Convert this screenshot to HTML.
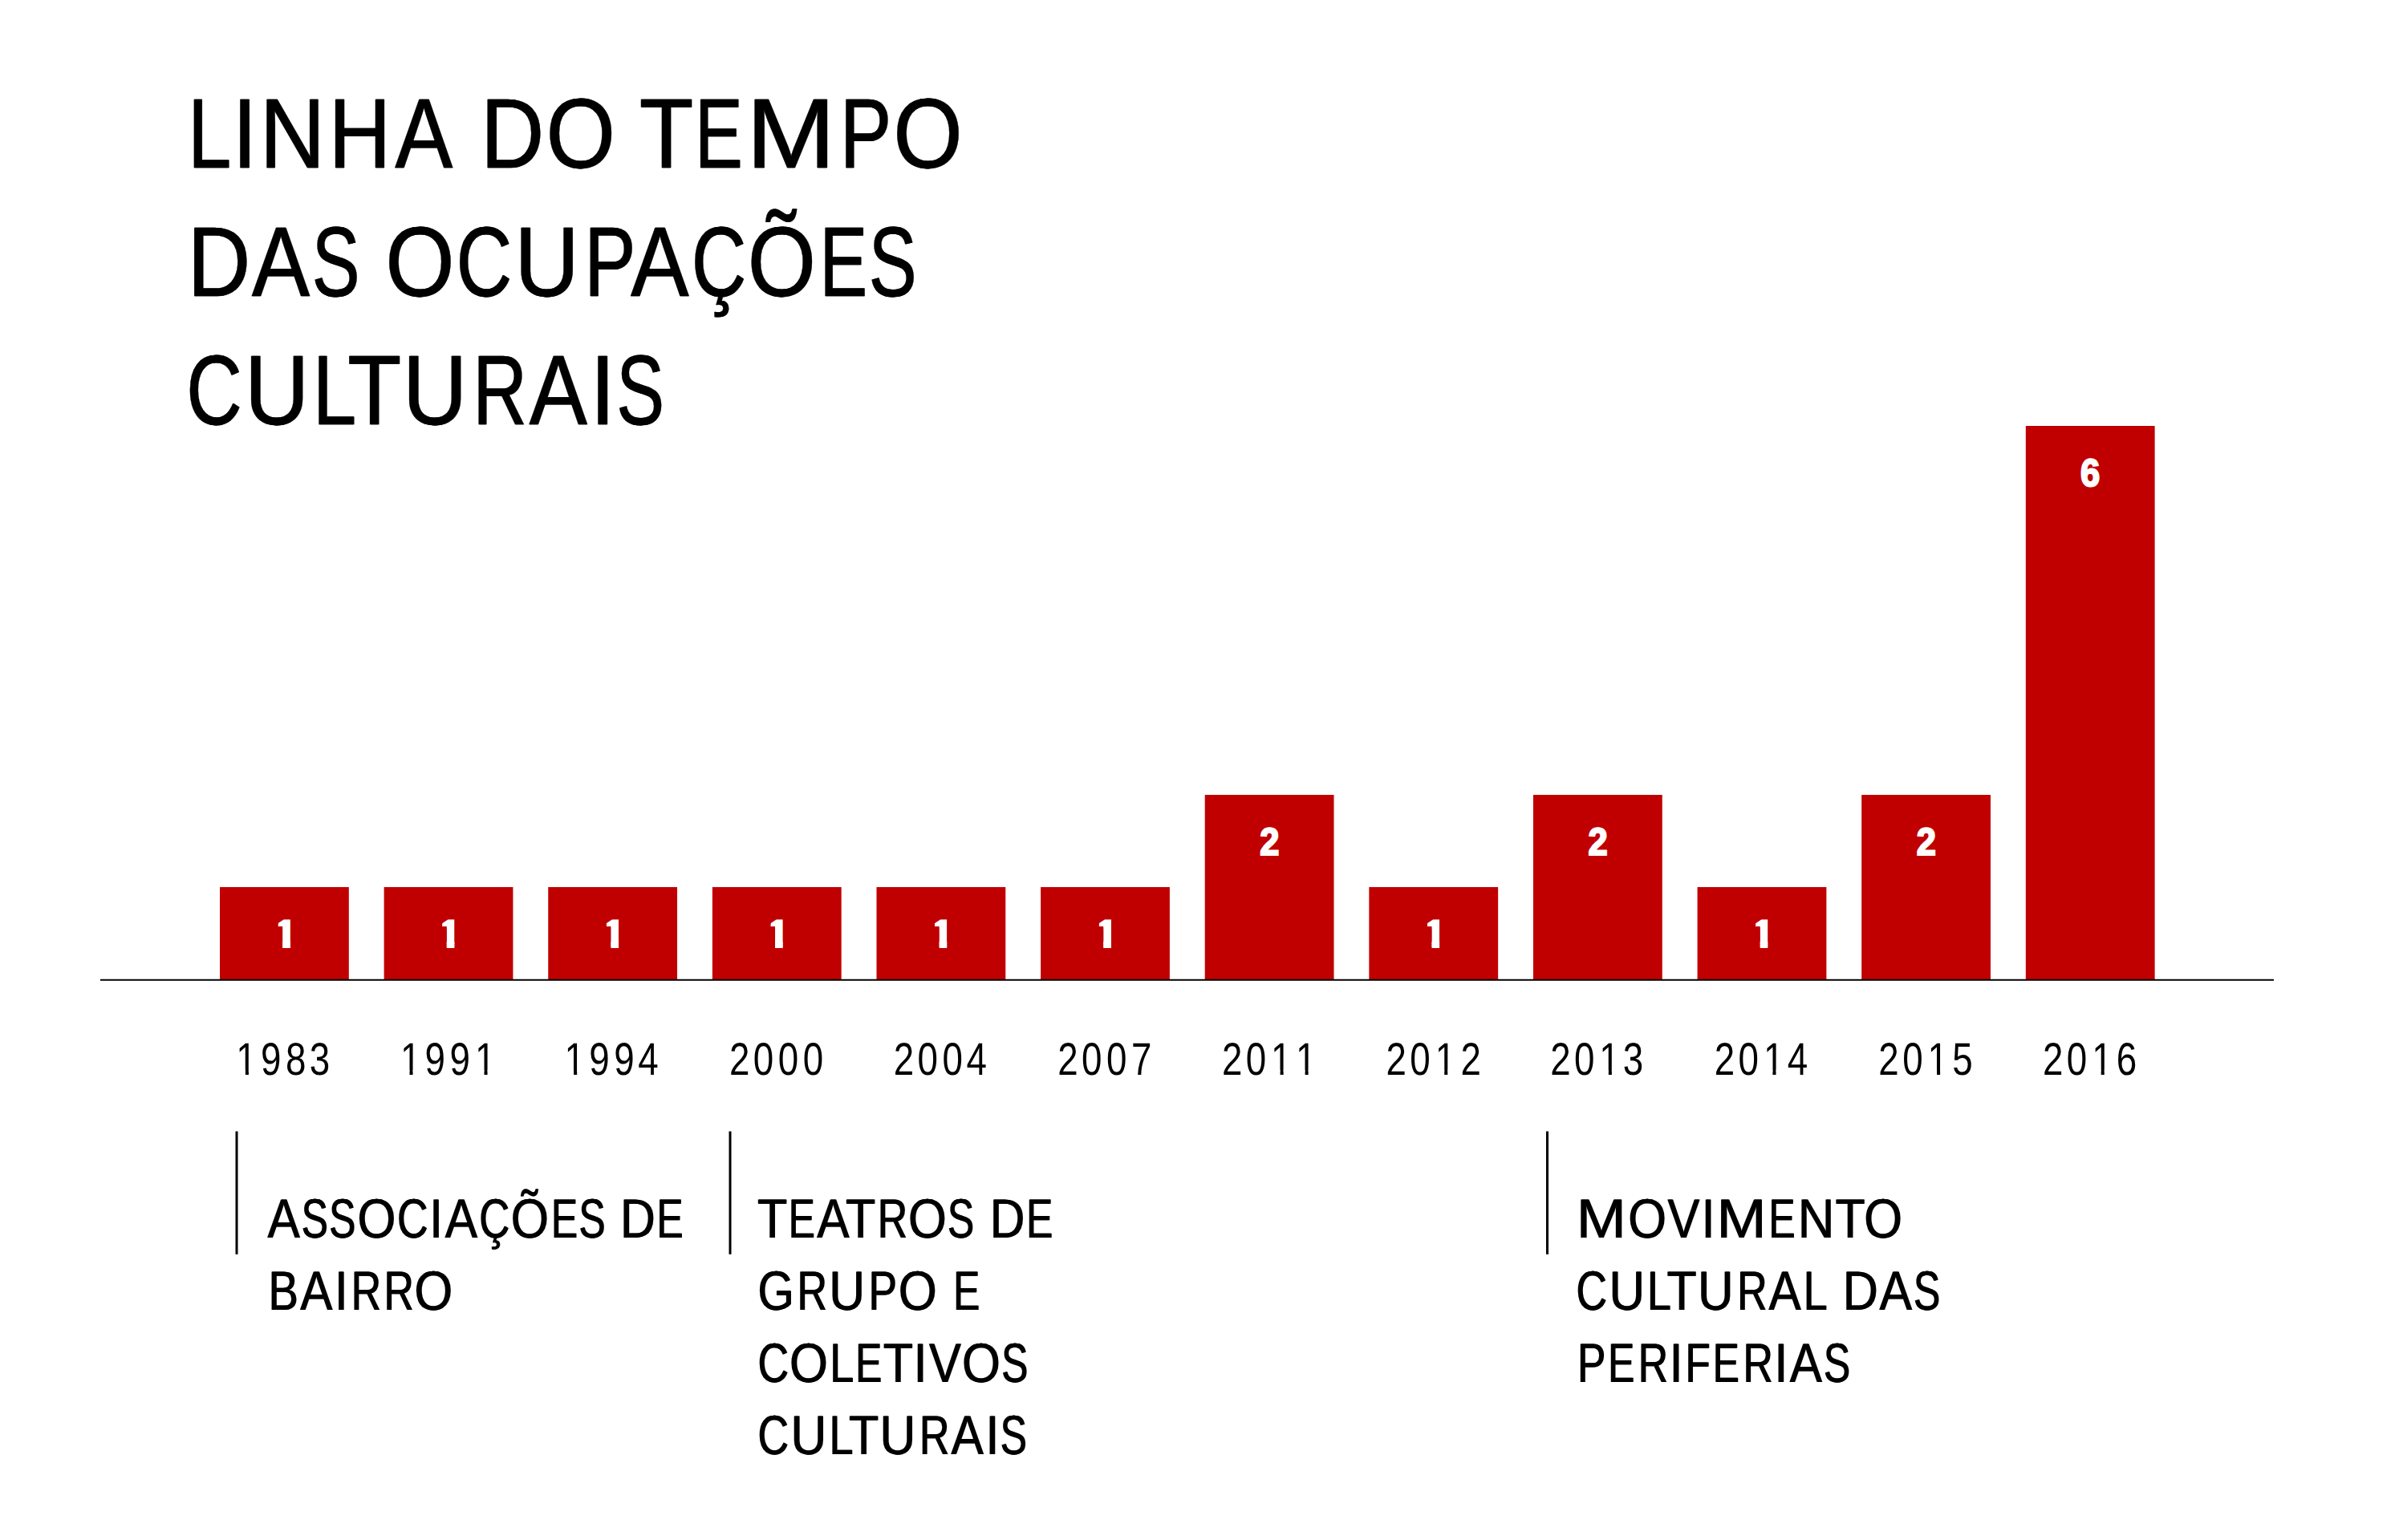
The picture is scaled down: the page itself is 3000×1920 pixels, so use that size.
<!DOCTYPE html>
<html lang="pt-BR">
<head>
<meta charset="utf-8">
<title>Linha do tempo das ocupações culturais</title>
<style>
html,body{margin:0;padding:0;background:#fff;}
body{width:3000px;height:1920px;overflow:hidden;}
svg{display:block;}
text{font-family:"Liberation Sans",sans-serif;fill:#000;text-rendering:geometricPrecision;}
.title{filter:drop-shadow(1px 0 0 #000);}
.title text{font-size:123.5px;stroke:#000;stroke-width:0.4px;}
.labels{filter:drop-shadow(1px 0 0 #000);}
.labels text{font-size:69.0px;stroke:#000;stroke-width:0.1px;}
.years text{font-size:57.2px;stroke:#000;stroke-width:0.0px;}
.bars rect{fill:#c00000;}
.nums text{font-size:48.2px;font-weight:700;fill:#fff;stroke:#fff;stroke-width:2.2px;stroke-linejoin:miter;}
.nums text.one{font-size:45.9px;stroke-width:4.0px;}
.rule{stroke:#000;}
</style>
</head>
<body>
<svg width="3000" height="1920" viewBox="0 0 3000 1920">
<rect width="3000" height="1920" fill="#fff"/>

<g class="title">
<text y="209.0"><tspan x="234.1" textLength="53.6" lengthAdjust="spacingAndGlyphs">L</tspan><tspan x="288.9" textLength="31.2" lengthAdjust="spacingAndGlyphs">I</tspan><tspan x="323.2" textLength="81.5" lengthAdjust="spacingAndGlyphs">N</tspan><tspan x="409.3" textLength="77.4" lengthAdjust="spacingAndGlyphs">H</tspan><tspan x="491.9" textLength="71.6" lengthAdjust="spacingAndGlyphs">A</tspan><tspan x="570.5"> </tspan><tspan x="598.8" textLength="78.8" lengthAdjust="spacingAndGlyphs">D</tspan><tspan x="680.3" textLength="86.0" lengthAdjust="spacingAndGlyphs">O</tspan><tspan x="768.2"> </tspan><tspan x="796.4" textLength="67.1" lengthAdjust="spacingAndGlyphs">T</tspan><tspan x="865.8" textLength="59.3" lengthAdjust="spacingAndGlyphs">E</tspan><tspan x="929.7" textLength="111.1" lengthAdjust="spacingAndGlyphs">M</tspan><tspan x="1046.5" textLength="64.0" lengthAdjust="spacingAndGlyphs">P</tspan><tspan x="1113.1" textLength="86.0" lengthAdjust="spacingAndGlyphs">O</tspan></text>
<text y="369.0"><tspan x="233.2" textLength="78.4" lengthAdjust="spacingAndGlyphs">D</tspan><tspan x="313.5" textLength="72.0" lengthAdjust="spacingAndGlyphs">A</tspan><tspan x="388.4" textLength="59.3" lengthAdjust="spacingAndGlyphs">S</tspan><tspan x="450.8"> </tspan><tspan x="480.0" textLength="85.8" lengthAdjust="spacingAndGlyphs">O</tspan><tspan x="568.3" textLength="69.4" lengthAdjust="spacingAndGlyphs">C</tspan><tspan x="641.0" textLength="80.4" lengthAdjust="spacingAndGlyphs">U</tspan><tspan x="728.0" textLength="63.8" lengthAdjust="spacingAndGlyphs">P</tspan><tspan x="785.8" textLength="72.2" lengthAdjust="spacingAndGlyphs">A</tspan><tspan x="861.4" textLength="68.2" lengthAdjust="spacingAndGlyphs">Ç</tspan><tspan x="931.6" textLength="84.7" lengthAdjust="spacingAndGlyphs">Õ</tspan><tspan x="1021.3" textLength="59.3" lengthAdjust="spacingAndGlyphs">E</tspan><tspan x="1082.6" textLength="59.4" lengthAdjust="spacingAndGlyphs">S</tspan></text>
<text y="529.0"><tspan x="232.0" textLength="69.2" lengthAdjust="spacingAndGlyphs">C</tspan><tspan x="304.6" textLength="80.2" lengthAdjust="spacingAndGlyphs">U</tspan><tspan x="389.5" textLength="54.0" lengthAdjust="spacingAndGlyphs">L</tspan><tspan x="432.8" textLength="66.8" lengthAdjust="spacingAndGlyphs">T</tspan><tspan x="501.4" textLength="80.2" lengthAdjust="spacingAndGlyphs">U</tspan><tspan x="589.0" textLength="67.3" lengthAdjust="spacingAndGlyphs">R</tspan><tspan x="659.3" textLength="72.1" lengthAdjust="spacingAndGlyphs">A</tspan><tspan x="735.0" textLength="31.4" lengthAdjust="spacingAndGlyphs">I</tspan><tspan x="767.9" textLength="59.3" lengthAdjust="spacingAndGlyphs">S</tspan></text>
</g>
<g class="bars">
<rect x="274.00" y="1106.00" width="160.8" height="115.00"/>
<rect x="478.62" y="1106.00" width="160.8" height="115.00"/>
<rect x="683.24" y="1106.00" width="160.8" height="115.00"/>
<rect x="887.86" y="1106.00" width="160.8" height="115.00"/>
<rect x="1092.48" y="1106.00" width="160.8" height="115.00"/>
<rect x="1297.10" y="1106.00" width="160.8" height="115.00"/>
<rect x="1501.72" y="991.00" width="160.8" height="230.00"/>
<rect x="1706.34" y="1106.00" width="160.8" height="115.00"/>
<rect x="1910.96" y="991.00" width="160.8" height="230.00"/>
<rect x="2115.58" y="1106.00" width="160.8" height="115.00"/>
<rect x="2320.20" y="991.00" width="160.8" height="230.00"/>
<rect x="2524.82" y="531.00" width="160.8" height="690.00"/>
</g>
<line class="rule" x1="125" x2="2834" y1="1221.7" y2="1221.7" stroke-width="1.9"/>
<defs><clipPath id="foot" clipPathUnits="userSpaceOnUse"><path d="M3.04 -60H18.89V10H8.83V-25.08H3.04Z"/></clipPath></defs>
<g class="nums">
<text class="one" clip-path="url(#foot)" transform="translate(343.60 1180.00) scale(0.9700 1)">1</text>
<text class="one" clip-path="url(#foot)" transform="translate(548.22 1180.00) scale(0.9700 1)">1</text>
<text class="one" clip-path="url(#foot)" transform="translate(752.84 1180.00) scale(0.9700 1)">1</text>
<text class="one" clip-path="url(#foot)" transform="translate(957.46 1180.00) scale(0.9700 1)">1</text>
<text class="one" clip-path="url(#foot)" transform="translate(1162.08 1180.00) scale(0.9700 1)">1</text>
<text class="one" clip-path="url(#foot)" transform="translate(1366.70 1180.00) scale(0.9700 1)">1</text>
<text transform="translate(1570.16 1066.00) scale(0.9014 1)">2</text>
<text class="one" clip-path="url(#foot)" transform="translate(1775.94 1180.00) scale(0.9700 1)">1</text>
<text transform="translate(1979.40 1066.00) scale(0.9014 1)">2</text>
<text class="one" clip-path="url(#foot)" transform="translate(2185.18 1180.00) scale(0.9700 1)">1</text>
<text transform="translate(2388.64 1066.00) scale(0.9014 1)">2</text>
<text transform="translate(2593.12 606.00) scale(0.9020 1)">6</text>
</g>
<defs><clipPath id="y0" clipPathUnits="userSpaceOnUse"><path clip-rule="evenodd" d="M-20 -70H190V20H-20ZM5.82 -5.77H18.35V3H5.82ZM23.40 -5.77H35.48V3H23.40Z"/></clipPath><clipPath id="y03" clipPathUnits="userSpaceOnUse"><path clip-rule="evenodd" d="M-20 -70H190V20H-20ZM5.82 -5.77H18.35V3H5.82ZM23.40 -5.77H35.48V3H23.40ZM122.07 -5.77H134.60V3H122.07ZM139.65 -5.77H151.73V3H139.65Z"/></clipPath><clipPath id="y23" clipPathUnits="userSpaceOnUse"><path clip-rule="evenodd" d="M-20 -70H190V20H-20ZM83.32 -5.77H95.85V3H83.32ZM100.90 -5.77H112.98V3H100.90ZM122.07 -5.77H134.60V3H122.07ZM139.65 -5.77H151.73V3H139.65Z"/></clipPath><clipPath id="y2" clipPathUnits="userSpaceOnUse"><path clip-rule="evenodd" d="M-20 -70H190V20H-20ZM83.32 -5.77H95.85V3H83.32ZM100.90 -5.77H112.98V3H100.90Z"/></clipPath></defs>
<g class="years">
<text clip-path="url(#y0)" transform="translate(291.20 1340) scale(0.8 1)" x="3.96 42.23 80.97 118.26">1983</text>
<text clip-path="url(#y03)" transform="translate(495.82 1340) scale(0.8 1)" x="3.96 42.23 80.98 120.21">1991</text>
<text clip-path="url(#y0)" transform="translate(700.44 1340) scale(0.8 1)" x="3.96 42.23 80.98 118.65">1994</text>
<text transform="translate(905.06 1340) scale(0.8 1)" x="4.97 42.22 80.97 119.72">2000</text>
<text transform="translate(1109.68 1340) scale(0.8 1)" x="4.97 42.22 80.97 118.65">2004</text>
<text transform="translate(1314.30 1340) scale(0.8 1)" x="4.97 42.22 80.97 119.69">2007</text>
<text clip-path="url(#y23)" transform="translate(1518.92 1340) scale(0.8 1)" x="4.97 42.22 81.46 120.21">2011</text>
<text clip-path="url(#y2)" transform="translate(1723.54 1340) scale(0.8 1)" x="4.97 42.22 81.46 121.22">2012</text>
<text clip-path="url(#y2)" transform="translate(1928.16 1340) scale(0.8 1)" x="4.97 42.22 81.46 118.26">2013</text>
<text clip-path="url(#y2)" transform="translate(2132.78 1340) scale(0.8 1)" x="4.97 42.22 81.46 118.65">2014</text>
<text clip-path="url(#y2)" transform="translate(2337.40 1340) scale(0.8 1)" x="4.97 42.22 81.46 119.77">2015</text>
<text clip-path="url(#y2)" transform="translate(2542.02 1340) scale(0.8 1)" x="4.97 42.22 81.46 119.52">2016</text>
</g>
<g class="marks">
<line class="rule" x1="295.0" x2="295.0" y1="1410.5" y2="1563.8" stroke-width="3"/>
<line class="rule" x1="910.0" x2="910.0" y1="1410.5" y2="1563.8" stroke-width="3"/>
<line class="rule" x1="1928.5" x2="1928.5" y1="1410.5" y2="1563.8" stroke-width="3"/>
</g>
<g class="labels">
<g class="label">
<text y="1543.0"><tspan x="333.0" textLength="40.3" lengthAdjust="spacingAndGlyphs">A</tspan><tspan x="375.3" textLength="33.1" lengthAdjust="spacingAndGlyphs">S</tspan><tspan x="409.8" textLength="33.1" lengthAdjust="spacingAndGlyphs">S</tspan><tspan x="444.9" textLength="47.9" lengthAdjust="spacingAndGlyphs">O</tspan><tspan x="494.5" textLength="38.6" lengthAdjust="spacingAndGlyphs">C</tspan><tspan x="534.8" textLength="16.7" lengthAdjust="spacingAndGlyphs">I</tspan><tspan x="554.3" textLength="40.3" lengthAdjust="spacingAndGlyphs">A</tspan><tspan x="596.8" textLength="38.0" lengthAdjust="spacingAndGlyphs">Ç</tspan><tspan x="636.3" textLength="47.2" lengthAdjust="spacingAndGlyphs">Õ</tspan><tspan x="686.6" textLength="33.1" lengthAdjust="spacingAndGlyphs">E</tspan><tspan x="721.0" textLength="33.1" lengthAdjust="spacingAndGlyphs">S</tspan><tspan x="758.9"> </tspan><tspan x="772.4" textLength="43.8" lengthAdjust="spacingAndGlyphs">D</tspan><tspan x="818.1" textLength="33.1" lengthAdjust="spacingAndGlyphs">E</tspan></text>
<text y="1633.0"><tspan x="334.0" textLength="37.4" lengthAdjust="spacingAndGlyphs">B</tspan><tspan x="373.8" textLength="40.1" lengthAdjust="spacingAndGlyphs">A</tspan><tspan x="416.6" textLength="16.7" lengthAdjust="spacingAndGlyphs">I</tspan><tspan x="437.2" textLength="37.4" lengthAdjust="spacingAndGlyphs">R</tspan><tspan x="477.9" textLength="37.4" lengthAdjust="spacingAndGlyphs">R</tspan><tspan x="515.9" textLength="47.7" lengthAdjust="spacingAndGlyphs">O</tspan></text>
</g>
<g class="label">
<text y="1543.0"><tspan x="943.5" textLength="37.3" lengthAdjust="spacingAndGlyphs">T</tspan><tspan x="982.2" textLength="33.1" lengthAdjust="spacingAndGlyphs">E</tspan><tspan x="1017.8" textLength="40.3" lengthAdjust="spacingAndGlyphs">A</tspan><tspan x="1053.5" textLength="37.3" lengthAdjust="spacingAndGlyphs">T</tspan><tspan x="1093.3" textLength="37.5" lengthAdjust="spacingAndGlyphs">R</tspan><tspan x="1131.4" textLength="47.8" lengthAdjust="spacingAndGlyphs">O</tspan><tspan x="1180.4" textLength="33.1" lengthAdjust="spacingAndGlyphs">S</tspan><tspan x="1218.3"> </tspan><tspan x="1233.3" textLength="43.6" lengthAdjust="spacingAndGlyphs">D</tspan><tspan x="1278.8" textLength="33.1" lengthAdjust="spacingAndGlyphs">E</tspan></text>
<text y="1633.0"><tspan x="943.9" textLength="45.3" lengthAdjust="spacingAndGlyphs">G</tspan><tspan x="993.1" textLength="37.6" lengthAdjust="spacingAndGlyphs">R</tspan><tspan x="1032.8" textLength="44.9" lengthAdjust="spacingAndGlyphs">U</tspan><tspan x="1081.9" textLength="35.5" lengthAdjust="spacingAndGlyphs">P</tspan><tspan x="1119.3" textLength="48.0" lengthAdjust="spacingAndGlyphs">O</tspan><tspan x="1171.4"> </tspan><tspan x="1187.7" textLength="33.1" lengthAdjust="spacingAndGlyphs">E</tspan></text>
<text y="1723.0"><tspan x="944.1" textLength="38.6" lengthAdjust="spacingAndGlyphs">C</tspan><tspan x="983.6" textLength="47.9" lengthAdjust="spacingAndGlyphs">O</tspan><tspan x="1033.7" textLength="30.0" lengthAdjust="spacingAndGlyphs">L</tspan><tspan x="1065.8" textLength="33.1" lengthAdjust="spacingAndGlyphs">E</tspan><tspan x="1100.2" textLength="37.3" lengthAdjust="spacingAndGlyphs">T</tspan><tspan x="1138.3" textLength="16.7" lengthAdjust="spacingAndGlyphs">I</tspan><tspan x="1157.4" textLength="39.9" lengthAdjust="spacingAndGlyphs">V</tspan><tspan x="1198.6" textLength="47.9" lengthAdjust="spacingAndGlyphs">O</tspan><tspan x="1247.7" textLength="33.1" lengthAdjust="spacingAndGlyphs">S</tspan></text>
<text y="1813.0"><tspan x="944.1" textLength="38.6" lengthAdjust="spacingAndGlyphs">C</tspan><tspan x="985.1" textLength="44.8" lengthAdjust="spacingAndGlyphs">U</tspan><tspan x="1033.0" textLength="30.0" lengthAdjust="spacingAndGlyphs">L</tspan><tspan x="1057.4" textLength="37.3" lengthAdjust="spacingAndGlyphs">T</tspan><tspan x="1096.0" textLength="44.8" lengthAdjust="spacingAndGlyphs">U</tspan><tspan x="1145.5" textLength="37.5" lengthAdjust="spacingAndGlyphs">R</tspan><tspan x="1185.0" textLength="40.3" lengthAdjust="spacingAndGlyphs">A</tspan><tspan x="1228.0" textLength="16.8" lengthAdjust="spacingAndGlyphs">I</tspan><tspan x="1246.2" textLength="33.1" lengthAdjust="spacingAndGlyphs">S</tspan></text>
</g>
<g class="label">
<text y="1543.0"><tspan x="1964.2" textLength="62.1" lengthAdjust="spacingAndGlyphs">M</tspan><tspan x="2028.8" textLength="47.8" lengthAdjust="spacingAndGlyphs">O</tspan><tspan x="2077.9" textLength="39.9" lengthAdjust="spacingAndGlyphs">V</tspan><tspan x="2120.3" textLength="16.7" lengthAdjust="spacingAndGlyphs">I</tspan><tspan x="2139.1" textLength="62.1" lengthAdjust="spacingAndGlyphs">M</tspan><tspan x="2204.1" textLength="33.1" lengthAdjust="spacingAndGlyphs">E</tspan><tspan x="2240.2" textLength="45.7" lengthAdjust="spacingAndGlyphs">N</tspan><tspan x="2287.0" textLength="37.2" lengthAdjust="spacingAndGlyphs">T</tspan><tspan x="2322.7" textLength="47.8" lengthAdjust="spacingAndGlyphs">O</tspan></text>
<text y="1633.0"><tspan x="1964.1" textLength="38.5" lengthAdjust="spacingAndGlyphs">C</tspan><tspan x="2004.9" textLength="44.6" lengthAdjust="spacingAndGlyphs">U</tspan><tspan x="2052.6" textLength="29.9" lengthAdjust="spacingAndGlyphs">L</tspan><tspan x="2076.9" textLength="37.2" lengthAdjust="spacingAndGlyphs">T</tspan><tspan x="2115.5" textLength="44.6" lengthAdjust="spacingAndGlyphs">U</tspan><tspan x="2164.7" textLength="37.4" lengthAdjust="spacingAndGlyphs">R</tspan><tspan x="2204.1" textLength="40.2" lengthAdjust="spacingAndGlyphs">A</tspan><tspan x="2247.3" textLength="29.9" lengthAdjust="spacingAndGlyphs">L</tspan><tspan x="2282.4"> </tspan><tspan x="2296.3" textLength="44.1" lengthAdjust="spacingAndGlyphs">D</tspan><tspan x="2341.9" textLength="40.6" lengthAdjust="spacingAndGlyphs">A</tspan><tspan x="2384.5" textLength="33.2" lengthAdjust="spacingAndGlyphs">S</tspan></text>
<text y="1723.0"><tspan x="1965.5" textLength="35.4" lengthAdjust="spacingAndGlyphs">P</tspan><tspan x="2003.7" textLength="33.1" lengthAdjust="spacingAndGlyphs">E</tspan><tspan x="2041.3" textLength="37.4" lengthAdjust="spacingAndGlyphs">R</tspan><tspan x="2080.2" textLength="16.7" lengthAdjust="spacingAndGlyphs">I</tspan><tspan x="2100.0" textLength="31.3" lengthAdjust="spacingAndGlyphs">F</tspan><tspan x="2134.3" textLength="33.1" lengthAdjust="spacingAndGlyphs">E</tspan><tspan x="2172.0" textLength="37.4" lengthAdjust="spacingAndGlyphs">R</tspan><tspan x="2210.9" textLength="16.7" lengthAdjust="spacingAndGlyphs">I</tspan><tspan x="2230.3" textLength="40.2" lengthAdjust="spacingAndGlyphs">A</tspan><tspan x="2272.4" textLength="33.1" lengthAdjust="spacingAndGlyphs">S</tspan></text>
</g>
</g>
</svg>
</body>
</html>
